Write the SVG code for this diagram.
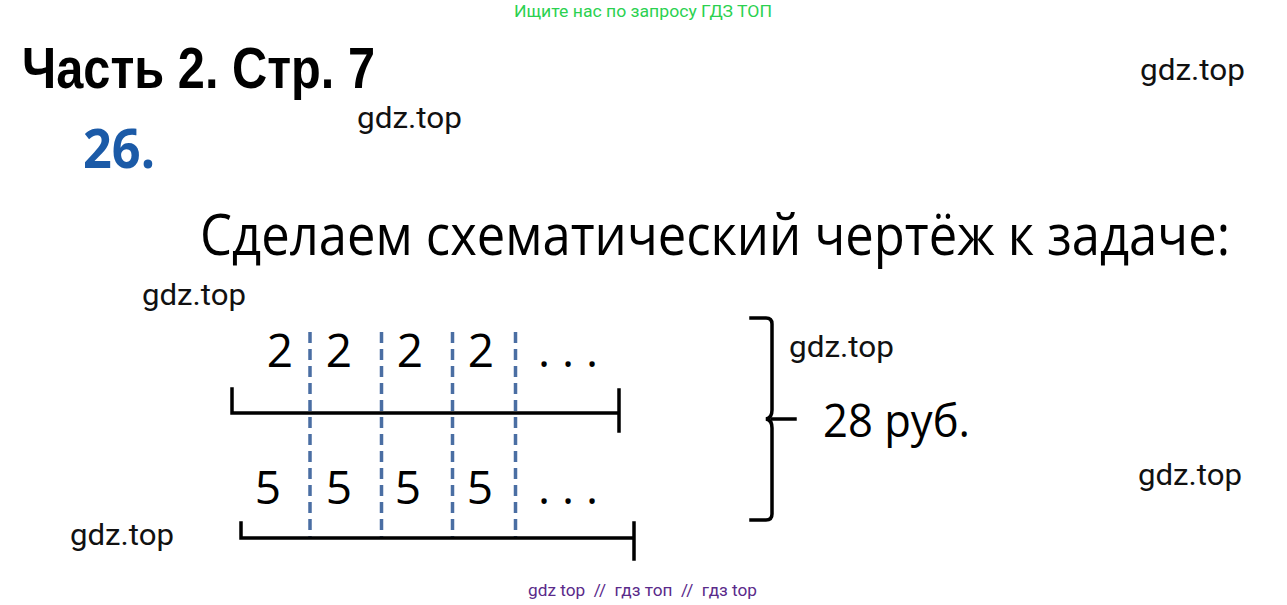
<svg xmlns="http://www.w3.org/2000/svg" width="1287" height="605" viewBox="0 0 1287 605">
<style>
.wm{font-family:Roboto,"Liberation Sans",sans-serif;font-size:30px;fill:#111}
.num{font-family:"Open Sans","Liberation Sans",sans-serif;font-size:46px;fill:#000}
.bar{stroke:#000;stroke-width:3.5;fill:none;stroke-linecap:square}
.dash{stroke:#4a6ea3;stroke-width:3.5;stroke-dasharray:11 6;fill:none}
</style>
<rect width="1287" height="605" fill="#fff"/>
<text x="643" y="17" text-anchor="middle" font-family="Roboto,'Liberation Sans',sans-serif" font-size="16" fill="#2bd150" textLength="258" lengthAdjust="spacingAndGlyphs">Ищите нас по запросу ГДЗ ТОП</text>
<g id="title">
<text x="22" y="88" font-family="'Liberation Sans',sans-serif" font-weight="bold" font-size="57" fill="#000" textLength="353" lengthAdjust="spacingAndGlyphs">Часть 2. Стр. 7</text>
</g>
<g id="number">
<text x="83" y="168" font-family="'Open Sans','Liberation Sans',sans-serif" font-weight="bold" font-size="54" fill="#1b5aa7" textLength="72" lengthAdjust="spacingAndGlyphs">26.</text>
</g>
<g id="heading">
<text x="200" y="255" font-family="'Open Sans','Liberation Sans',sans-serif" font-size="57" fill="#000" textLength="1030" lengthAdjust="spacingAndGlyphs">Сделаем схематический чертёж к задаче:</text>
</g>
<g id="watermarks">
<text class="wm" x="1140" y="80" textLength="105" lengthAdjust="spacingAndGlyphs">gdz.top</text>
<text class="wm" x="357" y="128" textLength="105" lengthAdjust="spacingAndGlyphs">gdz.top</text>
<text class="wm" x="142" y="305" textLength="104" lengthAdjust="spacingAndGlyphs">gdz.top</text>
<text class="wm" x="789" y="357" textLength="105" lengthAdjust="spacingAndGlyphs">gdz.top</text>
<text class="wm" x="1138" y="485" textLength="104" lengthAdjust="spacingAndGlyphs">gdz.top</text>
<text class="wm" x="70" y="545" textLength="104" lengthAdjust="spacingAndGlyphs">gdz.top</text>
</g>
<g id="connectors">
<line class="dash" x1="310" y1="332" x2="310" y2="538"/>
<line class="dash" x1="381.5" y1="332" x2="381.5" y2="538"/>
<line class="dash" x1="452.5" y1="332" x2="452.5" y2="538"/>
<line class="dash" x1="515.5" y1="332" x2="515.5" y2="538"/>
</g>
<g id="segment-top">
<path class="bar" d="M232,389 L232,413 L619,413 M619,390 L619,431"/>
<text class="num" x="280" y="367" text-anchor="middle">2</text>
<text class="num" x="339" y="367" text-anchor="middle">2</text>
<text class="num" x="410" y="367" text-anchor="middle">2</text>
<text class="num" x="481" y="367" text-anchor="middle">2</text>
<text class="num" x="568" y="367" text-anchor="middle">. . .</text>
</g>
<g id="segment-bottom">
<path class="bar" d="M241,523 L241,538 L634,538 M634,523 L634,559"/>
<text class="num" x="268" y="504" text-anchor="middle">5</text>
<text class="num" x="339" y="504" text-anchor="middle">5</text>
<text class="num" x="408" y="504" text-anchor="middle">5</text>
<text class="num" x="480" y="504" text-anchor="middle">5</text>
<text class="num" x="568" y="504" text-anchor="middle">. . .</text>
</g>
<g id="brace">
<path class="bar" stroke-linecap="butt" d="M751,318 L766,318 Q772,318 772,324 L772,410 Q772,418 766,419 Q772,420 772,428 L772,514 Q772,520 766,520 L751,520"/>
<path class="bar" stroke-linecap="butt" d="M772,419 L795,419"/>
</g>
<g id="total">
<text class="num" x="823" y="437" textLength="147" lengthAdjust="spacingAndGlyphs">28 руб.</text>
</g>
<text x="528" y="596" font-family="Roboto,'Liberation Sans',sans-serif" font-size="17" fill="#5a2a8a" xml:space="preserve" textLength="229" lengthAdjust="spacingAndGlyphs">gdz top  //  гдз топ  //  гдз top</text>
</svg>
